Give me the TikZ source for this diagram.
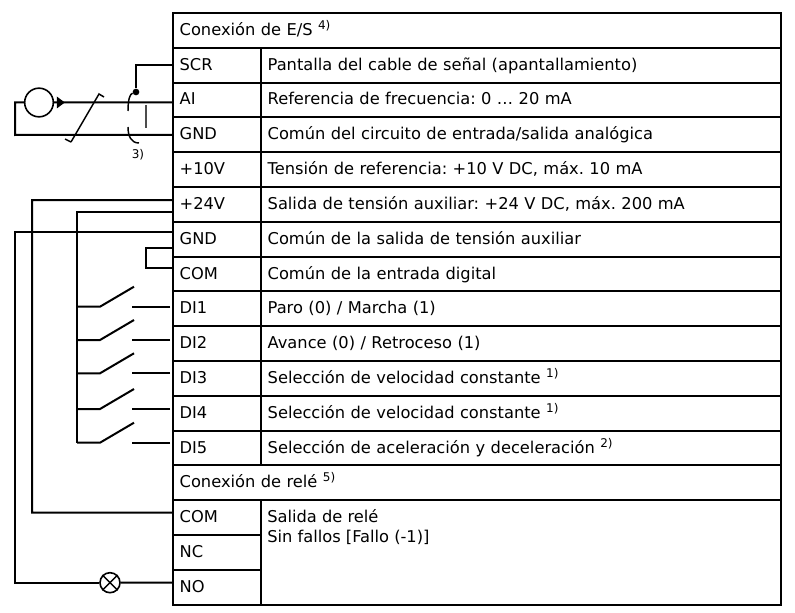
\documentclass[tikz,border=0pt]{standalone}
\usepackage{fontspec}
\setmainfont{DejaVu Sans}
\frenchspacing
\newcommand{\notemark}[1]{\raisebox{4.5pt}{\fontsize{9}{10}\selectfont #1}}
\tikzset{
  wire/.style={line width=1.5pt},
  cell/.style={draw,line width=1.5pt,anchor=north west,outer sep=0pt,inner sep=0pt,
    minimum height=26.1pt,text height=9.5pt,text depth=2pt,align=left,
    font=\fontsize{12.2}{15}\selectfont},
  termcell/.style={cell,minimum width=66pt,text width=56pt,inner xsep=5pt},
  desccell/.style={cell,minimum width=390pt,text width=380pt,inner xsep=5pt},
  widecell/.style={cell,minimum width=456pt,text width=446pt,inner xsep=5pt},
}
\begin{document}
\begin{tikzpicture}[x=0.75pt,y=-0.75pt]
    \useasboundingbox (0,0) rectangle (795,613);
    % table
    \node[widecell] (iohead) at (173,13) {Conexión de E/S \notemark{4)}};
    \node[termcell] (scr) at (173,47.8) {SCR};
    \node[desccell] (scrtxt) at (261,47.8) {Pantalla del cable de señal (apantallamiento)};
    \node[termcell] (ai) at (173,82.6) {AI};
    \node[desccell] (aitxt) at (261,82.6) {Referencia de frecuencia: 0 … 20 mA};
    \node[termcell] (gnda) at (173,117.4) {GND};
    \node[desccell] (gndatxt) at (261,117.4) {Común del circuito de entrada/salida analógica};
    \node[termcell] (ten) at (173,152.2) {+10V};
    \node[desccell] (tentxt) at (261,152.2) {Tensión de referencia: +10 V DC, máx. 10 mA};
    \node[termcell] (tf) at (173,187) {+24V};
    \node[desccell] (tftxt) at (261,187) {Salida de tensión auxiliar: +24 V DC, máx. 200 mA};
    \node[termcell] (gndb) at (173,221.8) {GND};
    \node[desccell] (gndbtxt) at (261,221.8) {Común de la salida de tensión auxiliar};
    \node[termcell] (com) at (173,256.6) {COM};
    \node[desccell] (comtxt) at (261,256.6) {Común de la entrada digital};
    \node[termcell] (dia) at (173,291.4) {DI1};
    \node[desccell] (diatxt) at (261,291.4) {Paro (0) / Marcha (1)};
    \node[termcell] (dib) at (173,326.2) {DI2};
    \node[desccell] (dibtxt) at (261,326.2) {Avance (0) / Retroceso (1)};
    \node[termcell] (dic) at (173,361) {DI3};
    \node[desccell] (dictxt) at (261,361) {Selección de velocidad constante \notemark{1)}};
    \node[termcell] (did) at (173,395.8) {DI4};
    \node[desccell] (didtxt) at (261,395.8) {Selección de velocidad constante \notemark{1)}};
    \node[termcell] (die) at (173,430.6) {DI5};
    \node[desccell] (dietxt) at (261,430.6) {Selección de aceleración y deceleración \notemark{2)}};
    \node[widecell] (relhead) at (173,465.4) {Conexión de relé \notemark{5)}};
    \node[termcell] (relcom) at (173,500.2) {COM};
    \node[termcell] (relnc) at (173,535) {NC};
    \node[termcell] (relno) at (173,569.8) {NO};
    \node[desccell,minimum height=78.3pt] (reltxt) at (261,500.2) {};
    \node[anchor=north west,inner sep=0pt,align=left,font=\fontsize{12.2}{15}\selectfont]
      (reltext) at (267,509) {Salida de relé\\Sin fallos [Fallo (-1)]};
    % analog input
    \node[draw,circle,line width=1.2pt,minimum size=21.5pt,inner sep=0pt] (src) at (39,102.5) {};
    \coordinate (srcback) at (15,102.5);
    \coordinate (srcret) at (15,135);
    \draw[wire] (src.west) -- (srcback) -- (srcret) -- (gnda.west);
    \draw[wire] (src.east) -- ([yshift=-1.8pt]ai.west);
    \fill ([xshift=2pt]src.east) -- ++(0,-6) -- ++(8,6) -- ++(-8,6) -- cycle;
    \coordinate (cablebot) at (71,142);
    \coordinate (cabletop) at (99,94);
    \draw[line width=1.1pt] (cablebot) -- (cabletop) -- ++(5,3);
    \draw[line width=1.1pt] (cablebot) -- ++(-6,-3);
    % shield
    \node[circle,fill=black,inner sep=0pt,minimum size=5pt] (shdot) at (136,92) {};
    \draw[wire] (scr.west) -| (shdot);
    \coordinate (shtop) at (128,111);
    \coordinate (shbot) at (128,127);
    \coordinate (shend) at (139,143);
    \draw[line width=1.1pt] (shdot) .. controls (130,94) and (128,99) .. (shtop);
    \draw[line width=1.1pt] (shbot) .. controls (128,136) and (131,143) .. (shend);
    \coordinate (gndbarup) at (146,105);
    \coordinate (gndbarlo) at (146,128);
    \draw[line width=1.1pt,black!70] (gndbarup) -- (gndbarlo);
    \node[font=\fontsize{9}{10}\selectfont,inner sep=0pt] (shnote) at (138,155) {3)};
    % supply wires
    \coordinate (comleft) at (32,512.7);
    \coordinate (noleft) at (15,582.7);
    \coordinate (diain) at (77,306.7);
    \coordinate (dibin) at (77,340);
    \coordinate (dicin) at (77,373.3);
    \coordinate (didin) at (77,409);
    \coordinate (diein) at (77,442.7);
    \coordinate (jumper) at (146,248);
    \draw[wire] ([yshift=3.3pt]tf.west) -| (comleft) -- ([yshift=3.7pt]relcom.west);
    \draw[wire] ([yshift=-5.7pt]tf.west) -| (diein);
    \node[draw,circle,line width=1.2pt,minimum size=15pt,inner sep=0pt] (lamp) at (110,582.7) {};
    \draw[line width=1.1pt] (lamp.north west) -- (lamp.south east);
    \draw[line width=1.1pt] (lamp.north east) -- (lamp.south west);
    \draw[wire] ([yshift=5.4pt]gndb.west) -| (noleft) -- (lamp);
    \draw[wire] (lamp) -- ([yshift=3.4pt]relno.west);
    \draw[wire] ([yshift=-6.6pt]gndb.west) -- (jumper) |- ([yshift=4.5pt]com.west);
    % digital inputs
    \draw[wire] (diain) -- ++(23,0) -- ++(34,-20);
    \draw[wire] ([xshift=-2.2pt,yshift=1.5pt]dia.west) -- ++(-38,0);
    \draw[wire] (dibin) -- ++(23,0) -- ++(34,-20);
    \draw[wire] ([xshift=-2.2pt,yshift=2.7pt]dib.west) -- ++(-38,0);
    \draw[wire] (dicin) -- ++(23,0) -- ++(34,-20);
    \draw[wire] ([xshift=-2.2pt,yshift=3.8pt]dic.west) -- ++(-38,0);
    \draw[wire] (didin) -- ++(23,0) -- ++(34,-20);
    \draw[wire] ([xshift=-2.2pt,yshift=3.2pt]did.west) -- ++(-38,0);
    \draw[wire] (diein) -- ++(23,0) -- ++(34,-20);
    \draw[wire] ([xshift=-2.2pt,yshift=4pt]die.west) -- ++(-38,0);
\end{tikzpicture}
\end{document}
